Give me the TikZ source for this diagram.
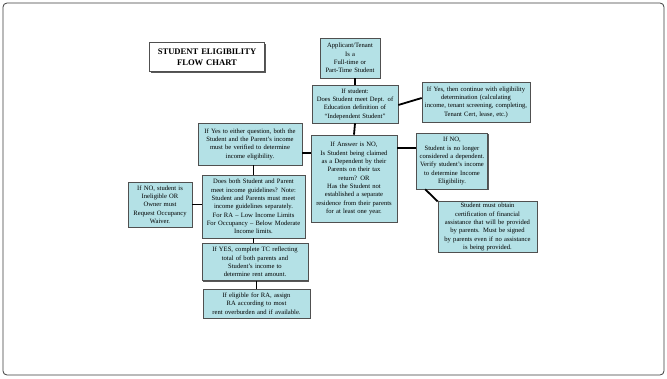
\documentclass[tikz,border=0pt]{standalone}
\usepackage{fontspec}
\setmainfont{Liberation Serif}
\usetikzlibrary{shadows}
\definecolor{boxFill}{RGB}{180,225,230}
\definecolor{boxEdge}{RGB}{80,80,80}
\definecolor{frameEdge}{RGB}{60,60,60}
\tikzset{
  flowbox/.style={draw=boxEdge, line width=0.6pt, fill=boxFill, align=center,
    inner sep=1.5pt, font=\fontsize{6.6}{8.3}\selectfont,
    drop shadow={shadow xshift=1.2pt, shadow yshift=-1.2pt, fill=black!65, opacity=1}},
  titlebox/.style={flowbox, fill=white, font=\fontsize{8.6}{11}\selectfont\bfseries},
  link/.style={line width=1.8pt},
}

\begin{document}
\begin{tikzpicture}[x=1pt,y=-1pt]
    \useasboundingbox (0,0) rectangle (667,378);
    % outer frame
    \draw[frameEdge, line width=0.8pt, rounded corners=4pt] (3,3) rectangle (664,375);

    % title
    \node[titlebox, text width=112pt, minimum height=29pt] (title) at (207,57)
      {STUDENT ELIGIBILITY\\FLOW CHART};

    % top of the chart
    \node[flowbox, text width=57pt, minimum height=40pt] (applicant) at (350,58)
      {Applicant/Tenant\\Is a\\Full-time or\\Part-Time Student};
    \node[flowbox, text width=83pt, minimum height=38pt] (indep) at (355,104)
      {If student:\\Does Student meet Dept. of\\Education definition of\\``Independent Student''};
    \node[flowbox, text width=105pt, minimum height=40pt] (cont) at (476,102)
      {If Yes, then continue with eligibility\\determination (calculating\\income, tenant screening, completing,\\Tenant Cert, lease, etc.)};

    % dependent question
    \node[flowbox, text width=83pt, minimum height=87pt] (dep) at (354,178.5)
      {If Answer is NO,\\Is Student being claimed\\as a Dependent by their\\Parents on their tax\\return? OR\\Has the Student not\\established a separate\\residence from their parents\\for at least one year.};
    \node[flowbox, text width=68pt, minimum height=56pt] (nodep) at (452,161)
      {If NO,\\Student is no longer\\considered a dependent.\\Verify student's income\\to determine Income\\Eligibility.};
    \node[flowbox, text width=96pt, minimum height=50pt] (certif) at (487.5,227)
      {Student  must obtain\\certification of financial\\assistance that will be provided\\by parents.  Must be signed\\by parents even if no assistance\\is being provided.};

    % left column: income of both
    \node[flowbox, text width=101pt, minimum height=42pt] (both) at (250,144)
      {If Yes to either question, both the\\Student and the Parent's income\\must be verified to determine\\income eligibility.};
    \node[flowbox, text width=100pt, minimum height=63pt] (guide) at (253.5,206.5)
      {Does both Student and Parent\\meet income guidelines? Note:\\Student and Parents must meet\\income  guidelines  separately.\\For RA -- Low Income Limits\\For Occupancy -- Below Moderate\\Income limits.};
    \node[flowbox, text width=61pt, minimum height=45pt] (inelig) at (160,204.5)
      {If NO, student is\\Ineligible OR\\Owner must\\Request Occupancy\\Waiver.};
    \node[flowbox, text width=103pt, minimum height=37pt] (tc) at (255,262)
      {If YES, complete TC reflecting\\total of both parents and\\Student's income to\\determine rent amount.};
    \node[flowbox, text width=104pt, minimum height=29pt] (assign) at (256.5,303.5)
      {If eligible for RA, assign\\RA according to most\\rent overburden and if available.};

    % connectors
    \draw[link] (applicant.south -| indep.north) -- (indep.north);
    \draw[link] ([yshift=-1pt]indep.east) -- ([yshift=4pt]cont.west);
    \draw[link] (indep.south) -- (dep.north);
    \draw[link] ([yshift=13pt]nodep.west) -- ([yshift=13pt]nodep.west -| dep.east);
    \draw[link] ([xshift=9pt]nodep.south west) -- (certif.north west);
    \draw[link] ([yshift=-9pt]both.east) -- ([yshift=-9pt]both.east -| dep.west);
    \draw[link] (both.south -| guide.north) -- (guide.north);
    \draw[link] (inelig.east) -- (inelig.east -| guide.west);
    \draw[link] (guide.south) -- (guide.south |- tc.north);
    \draw[link] (tc.south -| assign.north) -- (assign.north);
\end{tikzpicture}
\end{document}
